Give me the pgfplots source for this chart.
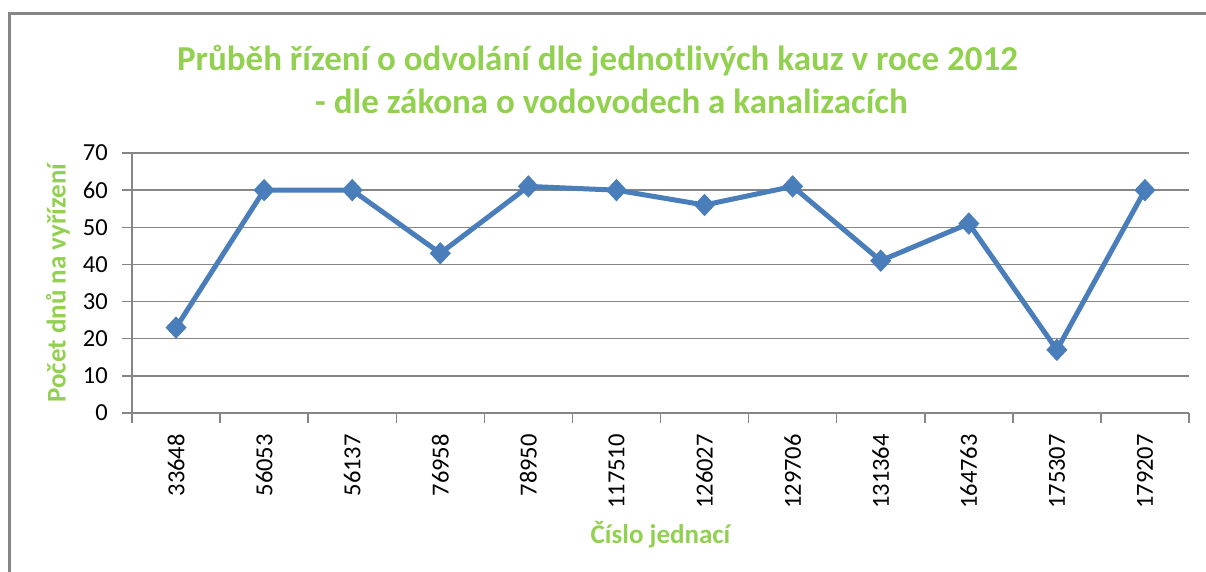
\documentclass[border=0pt]{standalone}
\usepackage{pgfplots}
\pgfplotsset{compat=1.18}
\usepackage{fontspec}
\setmainfont{Carlito}
\definecolor{ttlgreen}{HTML}{92D050}
\definecolor{serblue}{HTML}{4A7EBB}
\definecolor{axgray}{HTML}{868686}
\begin{document}
\begin{tikzpicture}[x=1pt,y=1pt]
\path[use as bounding box] (0,0) rectangle (1206,572);
\draw[axgray, line width=2.7pt] (9.5,0) -- (9.5,558.5) -- (1206,558.5);
\begin{axis}[
  at={(132pt,159pt)}, anchor=south west,
  scale only axis, width=1057pt, height=260pt,
  xmin=-0.5, xmax=11.5, ymin=0, ymax=70,
  ytick={0,10,...,70},
  xtick={0,...,11},
  xticklabels={33648,56053,56137,76958,78950,117510,126027,129706,131364,164763,175307,179207},
  minor xtick={-0.5,0.5,...,11.5},
  axis lines=left, axis line style={-, axgray, line width=1.5pt},
  tick align=outside,
  major tick length=10pt, minor tick length=10pt,
  x tick style={draw=none},
  minor x tick style={draw=axgray, line width=1.5pt},
  y tick style={axgray, line width=1.5pt},
  ymajorgrids, grid style={axgray, line width=1.5pt},
  /pgf/number format/assume math mode=true,
  ticklabel style={font=\fontsize{24.5}{24.5}\selectfont, text=black},
  xticklabel style={rotate=90, anchor=east, inner sep=0pt},
  xticklabel shift=11pt,
  yticklabel style={anchor=east, inner sep=0pt},
  yticklabel shift=14pt,
  xlabel={Číslo jednací},
  ylabel={Počet dnů na vyřízení},
  label style={font=\bfseries\fontsize{27}{27}\selectfont, text=ttlgreen},
  xlabel style={at={(axis description cs:0.5,-0.469)}, anchor=center},
  ylabel style={at={(axis description cs:-0.070,0.5)}, anchor=center},
  title={Průběh řízení o odvolání dle jednotlivých kauz v roce 2012\hspace*{28pt}\\- dle zákona o vodovodech a kanalizacích},
  title style={at={(axis description cs:0.4536,1.258)}, anchor=center, align=center,
    font=\bfseries\fontsize{35}{43}\selectfont, text=ttlgreen},
  clip=false,
]
\addplot[serblue, line width=5pt, mark=diamond*, mark size=10.5pt,
  mark options={line width=1pt, xscale=1.25, fill=serblue}]
  coordinates {(0,23) (1,60) (2,60) (3,43) (4,61) (5,60) (6,56) (7,61) (8,41) (9,51) (10,17) (11,60)};
\end{axis}
\end{tikzpicture}
\end{document}
